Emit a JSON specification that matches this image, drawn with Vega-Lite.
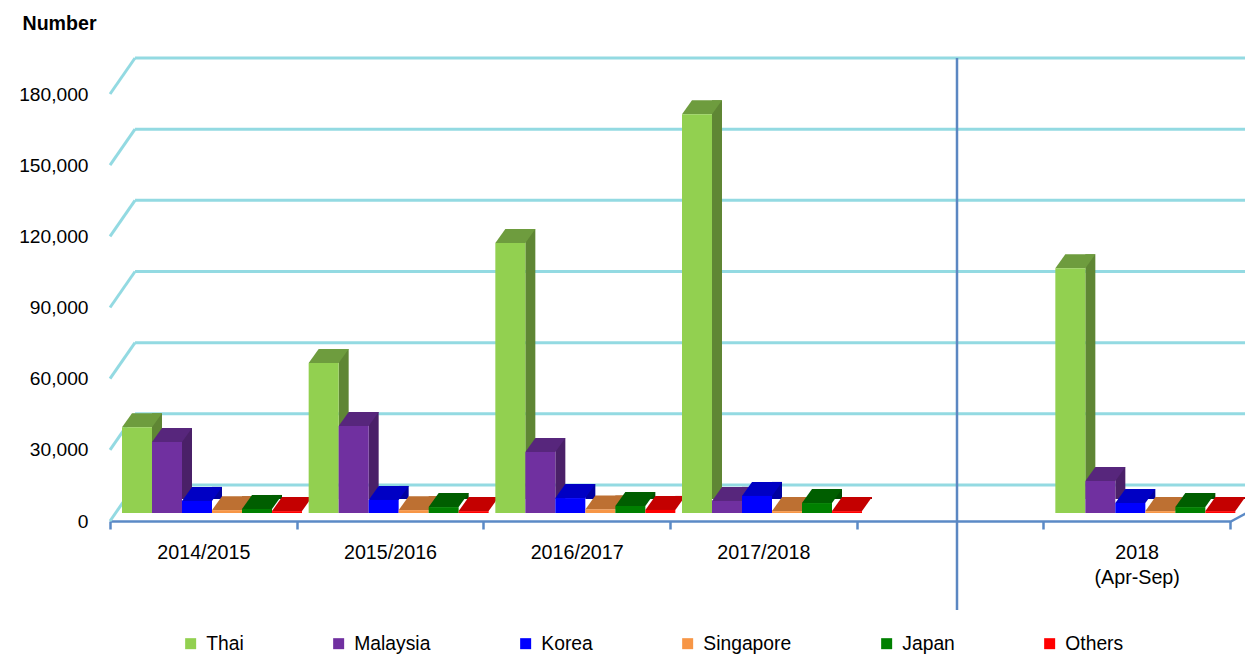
{
  "$schema": "https://vega.github.io/schema/vega-lite/v6.json",
  "width": 1120,
  "height": 427,
  "autosize": {"type": "none"},
  "padding": {"left": 110, "top": 94, "right": 15, "bottom": 136},
  "background": "white",
  "config": {
    "view": {"stroke": null},
    "font": "Liberation Sans, Arial, sans-serif"
  },
  "datasets": {
    "visitors": [
      {"period": "2014/2015", "origin": "Thai", "count": 36200},
      {"period": "2014/2015", "origin": "Malaysia", "count": 29900},
      {"period": "2014/2015", "origin": "Korea", "count": 5100},
      {"period": "2014/2015", "origin": "Singapore", "count": 1200},
      {"period": "2014/2015", "origin": "Japan", "count": 1700},
      {"period": "2014/2015", "origin": "Others", "count": 800},
      {"period": "2015/2016", "origin": "Thai", "count": 63200},
      {"period": "2015/2016", "origin": "Malaysia", "count": 36700},
      {"period": "2015/2016", "origin": "Korea", "count": 5500},
      {"period": "2015/2016", "origin": "Singapore", "count": 1200},
      {"period": "2015/2016", "origin": "Japan", "count": 2500},
      {"period": "2015/2016", "origin": "Others", "count": 800},
      {"period": "2016/2017", "origin": "Thai", "count": 113800},
      {"period": "2016/2017", "origin": "Malaysia", "count": 25700},
      {"period": "2016/2017", "origin": "Korea", "count": 6300},
      {"period": "2016/2017", "origin": "Singapore", "count": 1500},
      {"period": "2016/2017", "origin": "Japan", "count": 2900},
      {"period": "2016/2017", "origin": "Others", "count": 1300},
      {"period": "2017/2018", "origin": "Thai", "count": 168100},
      {"period": "2017/2018", "origin": "Malaysia", "count": 5100},
      {"period": "2017/2018", "origin": "Korea", "count": 7200},
      {"period": "2017/2018", "origin": "Singapore", "count": 800},
      {"period": "2017/2018", "origin": "Japan", "count": 4200},
      {"period": "2017/2018", "origin": "Others", "count": 800},
      {"period": "2018 (Apr-Sep)", "origin": "Thai", "count": 103200},
      {"period": "2018 (Apr-Sep)", "origin": "Malaysia", "count": 13500},
      {"period": "2018 (Apr-Sep)", "origin": "Korea", "count": 4200},
      {"period": "2018 (Apr-Sep)", "origin": "Singapore", "count": 800},
      {"period": "2018 (Apr-Sep)", "origin": "Japan", "count": 2500},
      {"period": "2018 (Apr-Sep)", "origin": "Others", "count": 800}
    ],
    "ticks": [
      {"tick": 0}, {"tick": 30000}, {"tick": 60000}, {"tick": 90000},
      {"tick": 120000}, {"tick": 150000}, {"tick": 180000}
    ],
    "one": [{}]
  },
  "layer": [
    {
      "data": {"name": "ticks"},
      "mark": {"type": "rule", "xOffset": -68.3, "x2Offset": 118.3, "yOffset": -36, "stroke": "#93dae2", "strokeWidth": 3},
      "encoding": {
        "x": {"datum": "2014/2015", "type": "nominal", "scale": {"domain": ["2014/2015", "2015/2016", "2016/2017", "2017/2018", " ", "2018 (Apr-Sep)"], "paddingInner": 0, "paddingOuter": 0}},
        "x2": {"datum": "2018 (Apr-Sep)"},
        "y": {
          "field": "tick", "type": "quantitative",
          "scale": {"domain": [0, 180000], "nice": false},
          "axis": {
            "title": "Number", "titleAngle": 0, "titleAlign": "left", "titleBaseline": "middle",
            "titleX": -88, "titleY": -71, "titleFontSize": 19.6, "titleFontWeight": "bold", "titleColor": "#000000",
            "domain": false, "ticks": false, "grid": false,
            "labelFontSize": 19.2, "labelColor": "#000000", "labelPadding": 22,
            "values": [0, 30000, 60000, 90000, 120000, 150000, 180000], "format": ",d"
          }
        }
      }
    },
    {
      "data": {"name": "ticks"},
      "mark": {"type": "rule", "xOffset": -93.3, "x2Offset": -68.3, "y2Offset": -36, "stroke": "#93dae2", "strokeWidth": 3},
      "encoding": {
        "x": {"datum": "2014/2015", "type": "nominal", "scale": {"domain": ["2014/2015", "2015/2016", "2016/2017", "2017/2018", " ", "2018 (Apr-Sep)"], "paddingInner": 0, "paddingOuter": 0}},
        "x2": {"datum": "2014/2015"},
        "y": {"field": "tick", "type": "quantitative", "scale": {"domain": [0, 180000], "nice": false}},
        "y2": {"field": "tick"}
      }
    },
    {
      "data": {"name": "visitors"},
      "mark": {"type": "bar", "width": 10, "yOffset": -22, "y2Offset": -8},
      "encoding": {
        "x": {"field": "period", "type": "nominal", "scale": {"domain": ["2014/2015", "2015/2016", "2016/2017", "2017/2018", " ", "2018 (Apr-Sep)"], "paddingInner": 0, "paddingOuter": 0}},
        "xOffset": {"field": "origin", "type": "nominal", "scale": {"domain": ["Thai", "Malaysia", "Korea", "Singapore", "Japan", "Others"], "range": [32, 212], "paddingInner": 0, "paddingOuter": 0}},
        "y": {"field": "count", "type": "quantitative", "scale": {"domain": [0, 180000], "nice": false}},
        "fill": {"field": "origin", "type": "nominal", "scale": {"domain": ["Thai", "Malaysia", "Korea", "Singapore", "Japan", "Others"], "range": ["#5f8634", "#4a2068", "#0000a0", "#a65e26", "#004c00", "#a30000"]}, "legend": null}
      }
    },
    {
      "data": {"name": "visitors"},
      "mark": {"type": "point", "shape": "M-15,0L15,0L25,-14L-5,-14Z", "size": 4, "filled": true, "opacity": 1, "strokeWidth": 0, "yOffset": -8},
      "encoding": {
        "x": {"field": "period", "type": "nominal", "scale": {"domain": ["2014/2015", "2015/2016", "2016/2017", "2017/2018", " ", "2018 (Apr-Sep)"], "paddingInner": 0, "paddingOuter": 0}},
        "xOffset": {"field": "origin", "type": "nominal", "scale": {"domain": ["Thai", "Malaysia", "Korea", "Singapore", "Japan", "Others"], "range": [27, 177], "paddingOuter": 0}},
        "y": {"field": "count", "type": "quantitative", "scale": {"domain": [0, 180000], "nice": false}},
        "fill": {"field": "origin", "type": "nominal", "scale": {"domain": ["Thai", "Malaysia", "Korea", "Singapore", "Japan", "Others"], "range": ["#6e9c3e", "#57267c", "#0000c4", "#bd7032", "#005e00", "#c40000"]}, "legend": null}
      }
    },
    {
      "data": {"name": "visitors"},
      "mark": {"type": "bar", "yOffset": -8, "y2Offset": -8},
      "encoding": {
        "x": {
          "field": "period", "type": "nominal",
          "scale": {"domain": ["2014/2015", "2015/2016", "2016/2017", "2017/2018", " ", "2018 (Apr-Sep)"], "paddingInner": 0, "paddingOuter": 0},
          "axis": {
            "title": null, "domainColor": "#5b8ac6", "domainWidth": 2.5,
            "tickColor": "#5b8ac6", "tickWidth": 2.5, "tickSize": 8, "tickBand": "extent",
            "labelAngle": 0, "labelAlign": "center", "labelFontSize": 19.7, "labelColor": "#000000", "labelPadding": 23,
            "labelLineHeight": 25, "labelExpr": "split(datum.label, ' ')", "grid": false
          }
        },
        "xOffset": {"field": "origin", "type": "nominal", "scale": {"domain": ["Thai", "Malaysia", "Korea", "Singapore", "Japan", "Others"], "range": [12, 192], "paddingInner": 0, "paddingOuter": 0}},
        "y": {"field": "count", "type": "quantitative", "scale": {"domain": [0, 180000], "nice": false}},
        "fill": {
          "field": "origin", "type": "nominal",
          "scale": {"domain": ["Thai", "Malaysia", "Korea", "Singapore", "Japan", "Others"], "range": ["#92d050", "#7030a0", "#0000ff", "#f79646", "#008000", "#ff0000"]},
          "legend": {
            "title": null, "orient": "none", "legendX": 71, "legendY": 540, "direction": "horizontal",
            "symbolType": "square", "symbolSize": 121, "symbolStrokeWidth": 0, "symbolOpacity": 1,
            "labelFontSize": 19.3, "labelColor": "#000000", "labelOffset": 6, "columnPadding": 85
          }
        }
      }
    },
    {
      "data": {"name": "one"},
      "mark": {"type": "rule", "xOffset": 7, "yOffset": -36, "y2Offset": 89, "stroke": "#5b87c2", "strokeWidth": 2.5},
      "encoding": {
        "x": {"datum": " ", "type": "nominal", "scale": {"domain": ["2014/2015", "2015/2016", "2016/2017", "2017/2018", " ", "2018 (Apr-Sep)"], "paddingInner": 0, "paddingOuter": 0}},
        "y": {"datum": 180000, "type": "quantitative", "scale": {"domain": [0, 180000], "nice": false}},
        "y2": {"datum": 0}
      }
    },
    {
      "data": {"name": "one"},
      "mark": {"type": "rule", "xOffset": 93.3, "x2Offset": 110, "yOffset": 1, "y2Offset": -8, "stroke": "#5b8ac6", "strokeWidth": 2.5},
      "encoding": {
        "x": {"datum": "2018 (Apr-Sep)", "type": "nominal", "scale": {"domain": ["2014/2015", "2015/2016", "2016/2017", "2017/2018", " ", "2018 (Apr-Sep)"], "paddingInner": 0, "paddingOuter": 0}},
        "x2": {"datum": "2018 (Apr-Sep)"},
        "y": {"datum": 0, "type": "quantitative", "scale": {"domain": [0, 180000], "nice": false}},
        "y2": {"datum": 0}
      }
    }
  ],
  "resolve": {"scale": {"xOffset": "independent", "fill": "independent"}}
}
